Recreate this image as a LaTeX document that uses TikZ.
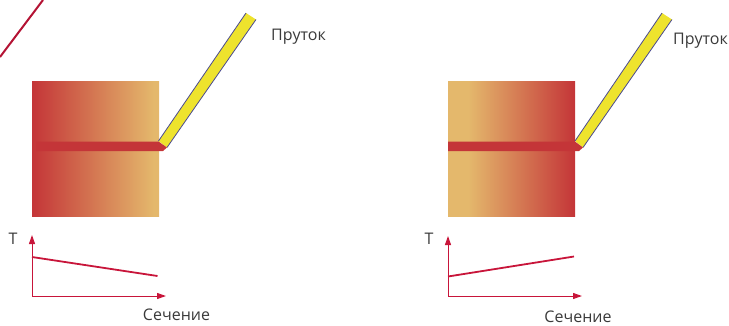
\documentclass[tikz,border=0pt]{standalone}
\usepackage{fontspec}
\setmainfont{Open Sans}
\usetikzlibrary{arrows.meta}
\definecolor{hotred}{HTML}{C43538}
\definecolor{warmsand}{HTML}{E4B86C}
\definecolor{rodyellow}{HTML}{EEE32D}
\definecolor{rodblue}{HTML}{4A4A90}
\definecolor{axisred}{HTML}{C8153A}
\definecolor{textgrey}{HTML}{3A3A3A}
\pgfdeclarehorizontalshading{redtosand}{100bp}{color(0bp)=(hotred); color(25bp)=(hotred); color(73bp)=(warmsand); color(100bp)=(warmsand)}
\pgfdeclarehorizontalshading{sandtored}{100bp}{color(0bp)=(warmsand); color(33bp)=(warmsand); color(75bp)=(hotred); color(100bp)=(hotred)}
\tikzset{
  rodbody/.style={fill=rodyellow},
  rodedge/.style={draw=rodblue, line width=0.8pt},
  seam/.style={fill=hotred},
  axisline/.style={draw=axisred, line width=1pt, -{Triangle[length=9pt,width=6pt]}},
  templine/.style={draw=axisred, line width=1.8pt},
  lbl/.style={text=textgrey, font=\fontsize{16}{19}\selectfont, inner sep=0pt}
}
\begin{document}
\begin{tikzpicture}[x=1pt, y=-1pt]
\useasboundingbox (0,0) rectangle (729,325);
% trait en haut
\coordinate (slashA) at (0,57);
\coordinate (slashB) at (43,0);
\draw[draw=axisred!90!black, line width=2pt] (slashA) -- (slashB);
% piece gauche
\shade[shading=redtosand] (32,81) rectangle (159,216);
\fill[rodbody] (158.5,141) -- (246,13) -- (256,19.5) -- (167,147.5) -- cycle;
\draw[rodedge] (158.5,141) -- (246,13);
\draw[rodedge] (167,147.5) -- (256,19.5);
\fill[seam] (36,141.5) -- (158.5,141.5) -- (167,147.5) -- (163,151) -- (36,151) -- cycle;
\node[lbl] (rodL) at (298.5,37) {Пруток};
% courbe gauche
\coordinate (originL) at (32,296);
\coordinate (topL) at (32,235);
\coordinate (endL) at (166,296);
\draw[axisline] (originL) -- (topL);
\draw[axisline] (originL) -- (endL);
\coordinate (tempLa) at (32,257);
\coordinate (tempLb) at (157.5,276);
\draw[templine] (tempLa) -- (tempLb);
\node[lbl] (tL) at (13,239) {Т};
\node[lbl] (secL) at (176.5,315) {Сечение};
% piece droite
\shade[shading=sandtored] (448,81) rectangle (575,216);
\fill[rodbody] (575,141) -- (662,13) -- (672,19.5) -- (583,147.5) -- cycle;
\draw[rodedge] (575,141) -- (662,13);
\draw[rodedge] (583,147.5) -- (672,19.5);
\fill[seam] (448,141.5) -- (575,141.5) -- (583,147.5) -- (579,151) -- (448,151) -- cycle;
\node[lbl] (rodR) at (700.5,41) {Пруток};
% courbe droite
\coordinate (originR) at (448,296);
\coordinate (topR) at (448,236);
\coordinate (endR) at (582,296);
\draw[axisline] (originR) -- (topR);
\draw[axisline] (originR) -- (endR);
\coordinate (tempRa) at (448,276.5);
\coordinate (tempRb) at (574,256.5);
\draw[templine] (tempRa) -- (tempRb);
\node[lbl] (tR) at (429,239) {Т};
\node[lbl] (secR) at (578,316.5) {Сечение};
\end{tikzpicture}
\end{document}
